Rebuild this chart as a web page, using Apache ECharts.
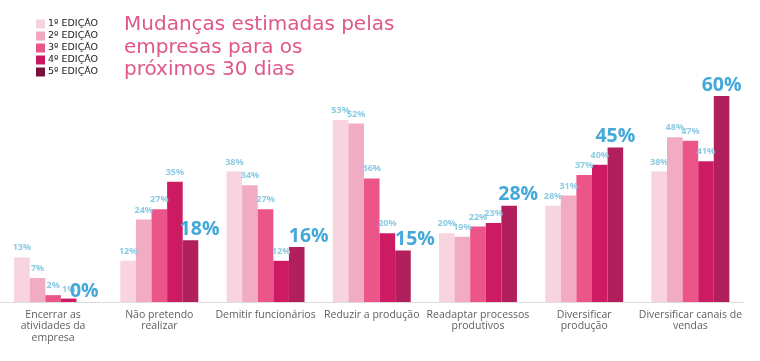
<!DOCTYPE html>
<html>
<head>
<meta charset="utf-8">
<script src="https://cdn.jsdelivr.net/npm/echarts@6/dist/echarts.min.js"></script>
<style>
html,body{margin:0;padding:0;background:#fff;}
#chart{width:760px;height:361px;}
</style>
</head>
<body>
<div id="chart"></div>
<script>
const categories = [
  'Encerrar as\natividades da\nempresa',
  'Não pretendo\nrealizar',
  'Demitir funcionários',
  'Reduzir a produção',
  'Readaptar processos\nprodutivos',
  'Diversificar\nprodução',
  'Diversificar canais de\nvendas'
];
const seriesNames = ['1º EDIÇÃO', '2º EDIÇÃO', '3º EDIÇÃO', '4º EDIÇÃO', '5º EDIÇÃO'];
const edicao1 = [13, 12, 38, 53, 20, 28, 38];
const edicao2 = [7, 24, 34, 52, 19, 31, 48];
const edicao3 = [2, 27, 27, 36, 22, 37, 47];
const edicao4 = [1, 35, 12, 20, 23, 40, 41];
const edicao5 = [0, 18, 16, 15, 28, 45, 60];

const values = [edicao1, edicao2, edicao3, edicao4, edicao5];
const barColors = ['#f7d4de', '#f1abc3', '#ec5588', '#cc1b63', '#b21f5d'];
const legendColors = ['#f5d3de', '#f0a7c0', '#e8558a', '#c8195f', '#7a0f3c'];
const bigLabelShift = [0, 9, 12, 12, 9, 0, 0];

const series = values.map((vals, i) => {
  const isLast = i === values.length - 1;
  return {
    name: seriesNames[i],
    type: 'bar',
    barWidth: 15.6,
    barGap: '0%',
    itemStyle: { color: barColors[i] },
    data: vals.map((v, j) => {
      const d = { value: v };
      if (isLast) d.label = { offset: [bigLabelShift[j], 0] };
      return d;
    }),
    label: isLast ? {
      show: true, position: 'top', distance: 1,
      formatter: '{c}%',
      color: '#44a8d8', fontSize: 19.5, fontWeight: 'bold', fontFamily: 'Open Sans'
    } : {
      show: true, position: 'top', distance: 5,
      formatter: '{c}%',
      color: '#8dcbe2', fontSize: 9, fontWeight: 'bold', fontFamily: 'Open Sans'
    }
  };
});

const chart = echarts.init(document.getElementById('chart'), null, { renderer: 'canvas' });
chart.setOption({
  animation: false,
  backgroundColor: '#ffffff',
  title: {
    text: 'Mudanças estimadas pelas\nempresas para os\npróximos 30 dias',
    left: 124, top: 14, padding: 0,
    textStyle: { color: '#e0578b', fontSize: 20, fontWeight: 'normal', fontFamily: 'DejaVu Sans', lineHeight: 22.5 }
  },
  legend: {
    orient: 'vertical', left: 36, top: 19, padding: 0,
    itemWidth: 9, itemHeight: 9, itemGap: 2,
    icon: 'rect',
    textStyle: { color: '#1a1a1a', fontSize: 9.5, fontFamily: 'DejaVu Sans', lineHeight: 9.5, padding: [0, 0, 0, -2] },
    data: seriesNames.map((n, i) => ({ name: n, itemStyle: { color: legendColors[i] } }))
  },
  grid: { left: -5.5, width: 749, top: 96, bottom: 59, containLabel: false },
  xAxis: {
    type: 'category',
    data: categories,
    axisLine: { lineStyle: { color: '#dddddd', width: 1 } },
    axisTick: { show: false },
    axisLabel: { interval: 0, margin: 7, color: '#5f5f5f', fontSize: 10.5, fontFamily: 'Open Sans', lineHeight: 11.5 }
  },
  yAxis: { type: 'value', min: 0, max: 60, show: false, splitLine: { show: false } },
  series: series
});
</script>
</body>
</html>
